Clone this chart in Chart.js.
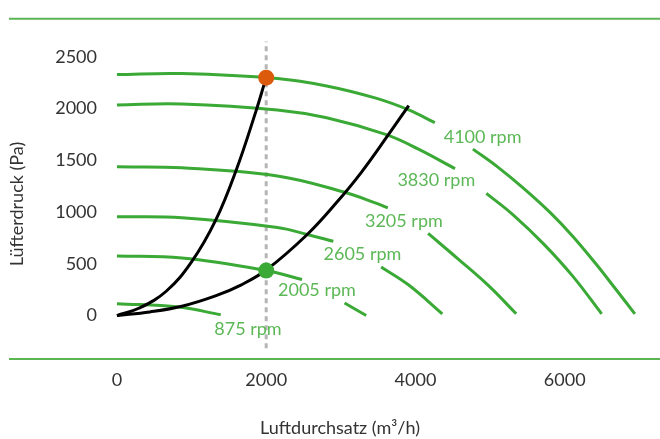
<!DOCTYPE html>
<html>
<head>
<meta charset="utf-8">
<script src="https://cdn.jsdelivr.net/npm/chart.js@4.4.1/dist/chart.umd.min.js"></script>
<style>
  html, body { margin: 0; padding: 0; background: #ffffff; }
  #wrap { position: relative; width: 660px; height: 439px; }
</style>
</head>
<body>
<div id="wrap"><canvas id="chart"></canvas></div>
<script>
// Lüfterkennlinien: Druck über Luftdurchsatz je Drehzahl + zwei Anlagenkennlinien.
// Werte (m³/h, Pa); null = Lücke für die Beschriftung.
var X_TICKS = [0, 2000, 4000, 6000];
var Y_TICKS = [0, 500, 1000, 1500, 2000, 2500];

var RPM_4100 = [[0, 2330], [870, 2340], [2150, 2292], [2810, 2220], [3470, 2102], [3910, 1988], [4260, 1865],
  [4500, null], [4770, 1609], [5100, 1438], [5450, 1230], [5810, 993], [6110, 765], [6420, 498], [6680, 259], [6940, 17]];
var RPM_3830 = [[0, 2036], [870, 2045], [2150, 1988], [2810, 1912], [3600, 1751], [4040, 1609], [4530, 1420],
  [4740, null], [4950, 1182], [5320, 967], [5720, 691], [6110, 379], [6495, 17]];
var RPM_3205 = [[0, 1438], [870, 1429], [2150, 1350], [3040, 1195], [3470, 1087], [3630, 1040],
  [3900, null], [4170, 794], [4570, 548], [4990, 282], [5350, 17]];
var RPM_2605 = [[0, 955], [870, 945], [2150, 851], [2550, 784], [2900, 718],
  [3200, null], [3540, 470], [3910, 295], [4360, 17]];
var RPM_2005 = [[0, 576], [870, 557], [2000, 435], [2480, 348],
  [2800, null], [3050, 121], [3340, 0]];
var RPM_875 = [[0, 115], [830, 83], [1390, 7]];

var SYSTEM_STEEP = [[0, 0], [300, 73], [660, 235], [1000, 519], [1320, 917], [1600, 1410], [1860, 1969], [1980, 2254]];
var SYSTEM_FLAT = [[0, 0], [440, 35], [870, 90], [1320, 190], [1660, 295], [2000, 440], [2550, 784],
  [2940, 1090], [3270, 1380], [3640, 1751], [3910, 2030]];

var GUIDE = [[2000, -315], [2000, 2650]];
var POINT_HIGH = [[2000, 2300]];
var POINT_LOW = [[2000, 435]];

var RPM_TEXT = ["4100 rpm", "3830 rpm", "3205 rpm", "2605 rpm", "2005 rpm", "875 rpm"];
var RPM_LABEL_AT = [[4900, 1723], [4280, 1306], [3845, 917], [3290, 595], [2680, 244], [1756, -135]];

var X_TITLE = "Luftdurchsatz (m³/h)";
var Y_TITLE = "Lüfterdruck (Pa)";

var GREEN = "#3aa935";
var GREEN_TEXT = "#5cb856";
var RULE = "#5bb553";
var ORANGE = "#dc5a0c";
var GREY = "#b5b5b5";
var INK = "#333333";
var FONT = "Lato, 'Open Sans', sans-serif";

Chart.defaults.font.family = FONT;
Chart.defaults.font.size = 18;
Chart.defaults.color = INK;

function curve(data, color, order) {
  return {
    type: "line",
    data: data,
    borderColor: color,
    borderWidth: 3,
    borderCapStyle: "butt",
    pointRadius: 0,
    fill: false,
    spanGaps: false,
    tension: 0.4,
    order: order,
  };
}

function dot(data, color) {
  return {
    type: "line",
    data: data,
    showLine: false,
    pointRadius: 8,
    pointBackgroundColor: color,
    pointBorderWidth: 0,
    order: 0,
  };
}

function plain(value) {
  return String(value);
}

// Trennlinien oben/unten, Kurvenbeschriftungen und Achsentitel
var decor = {
  id: "decor",
  beforeDatasetsDraw: function (chart) {
    var ctx = chart.ctx, a = chart.chartArea;
    ctx.save();
    ctx.strokeStyle = RULE;
    ctx.lineWidth = 2;
    [a.top, a.bottom].forEach(function (y) {
      ctx.beginPath();
      ctx.moveTo(9, y);
      ctx.lineTo(chart.width, y);
      ctx.stroke();
    });
    ctx.restore();
  },
  afterDatasetsDraw: function (chart) {
    var ctx = chart.ctx, sx = chart.scales.x, sy = chart.scales.y;
    ctx.save();
    ctx.font = "18px " + FONT;
    ctx.textAlign = "center";
    ctx.textBaseline = "middle";
    ctx.fillStyle = GREEN_TEXT;
    RPM_TEXT.forEach(function (t, i) {
      ctx.fillText(t, sx.getPixelForValue(RPM_LABEL_AT[i][0]), sy.getPixelForValue(RPM_LABEL_AT[i][1]));
    });
    ctx.fillStyle = INK;
    ctx.fillText(X_TITLE, 340, 428);
    ctx.translate(17, 204);
    ctx.rotate(-Math.PI / 2);
    ctx.fillText(Y_TITLE, 0, 0);
    ctx.restore();
  },
};

new Chart(document.getElementById("chart"), {
  type: "line",
  data: {
    datasets: [
      dot(POINT_HIGH, ORANGE),
      dot(POINT_LOW, GREEN),
      curve(SYSTEM_STEEP, "#000000", 1),
      curve(SYSTEM_FLAT, "#000000", 1),
      curve(RPM_4100, GREEN, 2),
      curve(RPM_3830, GREEN, 2),
      curve(RPM_3205, GREEN, 2),
      curve(RPM_2605, GREEN, 2),
      curve(RPM_2005, GREEN, 2),
      curve(RPM_875, GREEN, 2),
      {
        type: "line",
        data: GUIDE,
        borderColor: GREY,
        borderWidth: 3,
        borderDash: [5, 4],
        pointRadius: 0,
        order: 3,
      },
    ],
  },
  options: {
    responsive: true,
    maintainAspectRatio: false,
    animation: false,
    events: [],
    layout: { padding: { top: 12, left: 0, right: 0, bottom: 0 } },
    scales: {
      x: {
        type: "linear",
        min: -160,
        max: 7170,
        grid: { display: false, drawTicks: false },
        border: { display: false },
        afterBuildTicks: function (s) {
          s.ticks = X_TICKS.map(function (v) { return { value: v }; });
        },
        afterFit: function (s) { s.height = 80; },
        ticks: { autoSkip: false, maxRotation: 0, padding: 10, color: INK, callback: plain },
      },
      y: {
        type: "linear",
        min: -420,
        max: 2869,
        grid: { display: false, drawTicks: false },
        border: { display: false },
        afterBuildTicks: function (s) {
          s.ticks = Y_TICKS.map(function (v) { return { value: v }; });
        },
        afterFit: function (s) { s.width = 105; },
        ticks: { padding: 8, color: INK, callback: plain },
      },
    },
    plugins: {
      legend: { display: false },
      tooltip: { enabled: false },
    },
  },
  plugins: [decor],
});
</script>
</body>
</html>
